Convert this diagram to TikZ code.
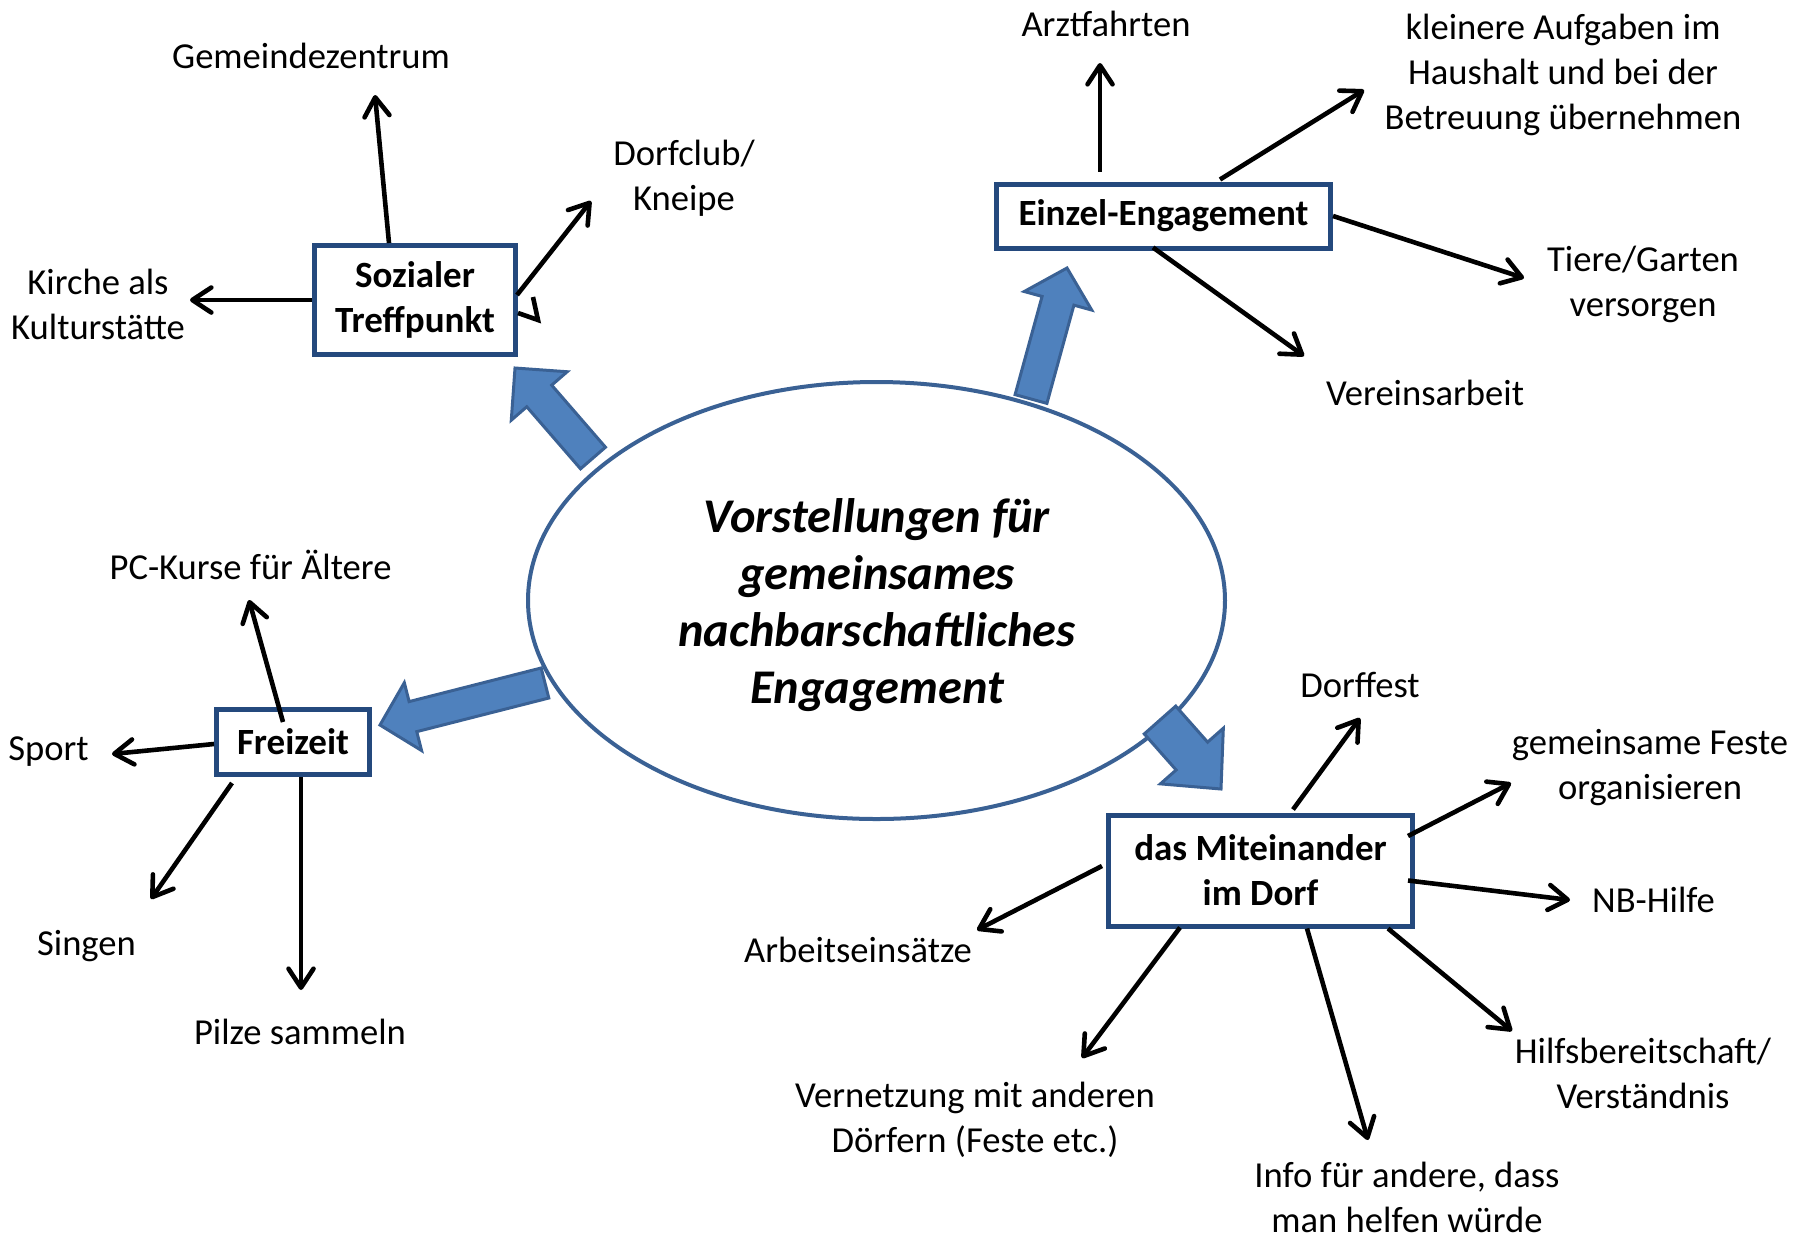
\documentclass[tikz,border=0pt]{standalone}
\usepackage{fontspec}
\setmainfont{Carlito}
\usetikzlibrary{arrows.meta,calc,shapes.geometric}
\definecolor{boxblue}{HTML}{24497D}
\definecolor{ellblue}{HTML}{3A6194}
\definecolor{arrfill}{HTML}{4F81BD}
\definecolor{arrdraw}{HTML}{3A6194}
\newcommand\blockarrow[5]{%
  \coordinate (ba-t) at (#1);
  \coordinate (ba-h) at (#2);
  \coordinate (ba-b) at ($(ba-h)!#5!(ba-t)$);
  \draw[bigarr] ($(ba-t)!#3!90:(ba-h)$) -- ($(ba-b)!#3!90:(ba-h)$) -- ($(ba-b)!#4!90:(ba-h)$) -- (ba-h) -- ($(ba-b)!#4!-90:(ba-h)$) -- ($(ba-b)!#3!-90:(ba-h)$) -- ($(ba-t)!#3!-90:(ba-h)$) -- cycle;}
\tikzset{
  lbl/.style={align=center, inner sep=0pt, font=\fontsize{18.3}{22.5}\selectfont},
  topic/.style={draw=boxblue, line width=2.5pt, fill=white, align=center, inner sep=0pt, font=\fontsize{18.5}{22.5}\selectfont\bfseries},
  conn/.style={draw=black, line width=2.3pt, -{Straight Barb[length=9.5pt,width=12.5pt,round]}},
  plainline/.style={draw=black, line width=2.3pt, line join=miter},
  bigarr/.style={fill=arrfill, draw=arrdraw, line width=1.5pt, line join=miter},
  centre/.style={ellipse, draw=ellblue, line width=2pt, fill=white, inner sep=0pt},
  title/.style={align=center, inner sep=0pt, font=\fontsize{24.2}{28.5}\selectfont\bfseries\itshape}
}
\begin{document}
\begin{tikzpicture}[x=0.5pt,y=-0.5pt]
\path[use as bounding box] (0,0) rectangle (1810,1238);

% central ellipse
\node[centre, minimum width=348.5pt, minimum height=218.5pt] (ell) at (876.5,600.5) {};
\node[title] (ttl) at (877,605)
  {Vorstellungen für\\gemeinsames\\nachbarschaftliches\\Engagement};

% block arrows from the ellipse to the topic boxes
\coordinate (t1) at (593,458);   \coordinate (h1) at (515,368);
\coordinate (t2) at (1031,399);  \coordinate (h2) at (1067,268);
\coordinate (t3) at (545,683);   \coordinate (h3) at (380,725);
\coordinate (t4) at (1160,720);  \coordinate (h4) at (1221,789);
\blockarrow{t1}{h1}{8.25pt}{18.5pt}{18.5pt}
\blockarrow{t2}{h2}{8.25pt}{17.5pt}{17pt}
\blockarrow{t3}{h3}{7.75pt}{17.5pt}{17pt}
\blockarrow{t4}{h4}{10.5pt}{21pt}{22pt}

% topic boxes
\node[topic, minimum width=100.5pt, minimum height=54.5pt] (soz) at (415,300) {Sozialer\\Treffpunkt};
\node[topic, minimum width=167pt, minimum height=32pt] (ein) at (1163.5,216) {Einzel-Engagement};
\node[topic, minimum width=76.5pt, minimum height=32.5pt] (fre) at (293,742) {Freizeit};
\node[topic, minimum width=152pt, minimum height=55.5pt] (mit) at (1260.5,870.5) {das Miteinander\\im Dorf};

% labels
\node[lbl] (gem) at (311,56) {Gemeindezentrum};
\node[lbl] (dorfclub) at (684,178.5) {Dorfclub/\\Kneipe};
\node[lbl] (kirche) at (98,304) {Kirche als\\Kulturstätte};
\node[lbl] (arzt) at (1106,24) {Arztfahrten};
\node[lbl] (klein) at (1563,74.5) {kleinere Aufgaben im\\Haushalt und bei der\\Betreuung übernehmen};
\node[lbl] (tiere) at (1643,284.5) {Tiere/Garten\\versorgen};
\node[lbl] (verein) at (1425,392.5) {Vereinsarbeit};
\node[lbl] (pc) at (250.5,564.5) {PC-Kurse für Ältere};
\node[lbl] (sport) at (48.5,752) {Sport};
\node[lbl] (singen) at (86.5,946.5) {Singen};
\node[lbl] (pilze) at (300,1032) {Pilze sammeln};
\node[lbl] (dorffest) at (1360,684.5) {Dorffest};
\node[lbl] (feste) at (1650,768) {gemeinsame Feste\\organisieren};
\node[lbl] (nb) at (1653.5,900) {NB-Hilfe};
\node[lbl] (arbeit) at (858,950) {Arbeitseinsätze};
\node[lbl] (vernetz) at (975,1119.5) {Vernetzung mit anderen\\Dörfern (Feste etc.)};
\node[lbl] (hilfs) at (1643,1073) {Hilfsbereitschaft/\\Verständnis};
\node[lbl] (info) at (1407,1197) {Info für andere, dass\\man helfen würde};

% arrow end points (near the labels)
\coordinate (e-gem) at (375,95);
\coordinate (e-kirche) at (190,300);
\coordinate (e-dorfclub) at (591,201);
\coordinate (e-arzt) at (1100,63);
\coordinate (e-klein) at (1364,90);
\coordinate (e-tiere) at (1524,278);
\coordinate (e-verein) at (1304,356);
\coordinate (e-pc) at (249,600);
\coordinate (e-sport) at (112,754);
\coordinate (e-singen) at (151,899);
\coordinate (e-pilze) at (301,990);
\coordinate (e-dorffest) at (1360,718);
\coordinate (e-feste) at (1511,783);
\coordinate (e-nb) at (1570,900);
\coordinate (e-arbeit) at (977,930);
\coordinate (e-vernetz) at (1082,1058);
\coordinate (e-info) at (1368,1140);
\coordinate (e-hilfs) at (1512,1031);

% connectors: Sozialer Treffpunkt
\draw[conn] ($(soz.north)+(-26,0)$) -- (e-gem);
\draw[conn] (soz.west) -- (e-kirche);
\draw[conn] ($(soz.east)+(-1,-5)$) -- (e-dorfclub);
\draw[plainline] ($(soz.east)+(15,-3)$) -- ($(soz.east)+(20,20)$) -- ($(soz.east)+(0,13)$);

% connectors: Einzel-Engagement
\draw[conn] ($(ein.north)+(-63.5,-10)$) -- (e-arzt);
\draw[conn] ($(ein.north)+(56.5,-2)$) -- (e-klein);
\draw[conn] (ein.east) -- (e-tiere);
\draw[conn] ($(ein.south)+(-10.5,-3)$) -- (e-verein);

% connectors: Freizeit
\draw[conn] ($(fre.north)+(-10,15)$) -- (e-pc);
\draw[conn] ($(fre.west)+(0,2)$) -- (e-sport);
\draw[conn] ($(fre.south)+(-61,6)$) -- (e-singen);
\draw[conn] ($(fre.south)+(8,0)$) -- (e-pilze);

% connectors: das Miteinander im Dorf
\draw[conn] ($(mit.north)+(32.5,-3)$) -- (e-dorffest);
\draw[conn] ($(mit.east)+(-7,-34.5)$) -- (e-feste);
\draw[conn] ($(mit.east)+(-7,10)$) -- (e-nb);
\draw[conn] ($(mit.west)+(-4,-4.5)$) -- (e-arbeit);
\draw[conn] ($(mit.south)+(-80.5,-1)$) -- (e-vernetz);
\draw[conn] ($(mit.south)+(46.5,0)$) -- (e-info);
\draw[conn] ($(mit.south)+(127.5,0)$) -- (e-hilfs);
\end{tikzpicture}
\end{document}
